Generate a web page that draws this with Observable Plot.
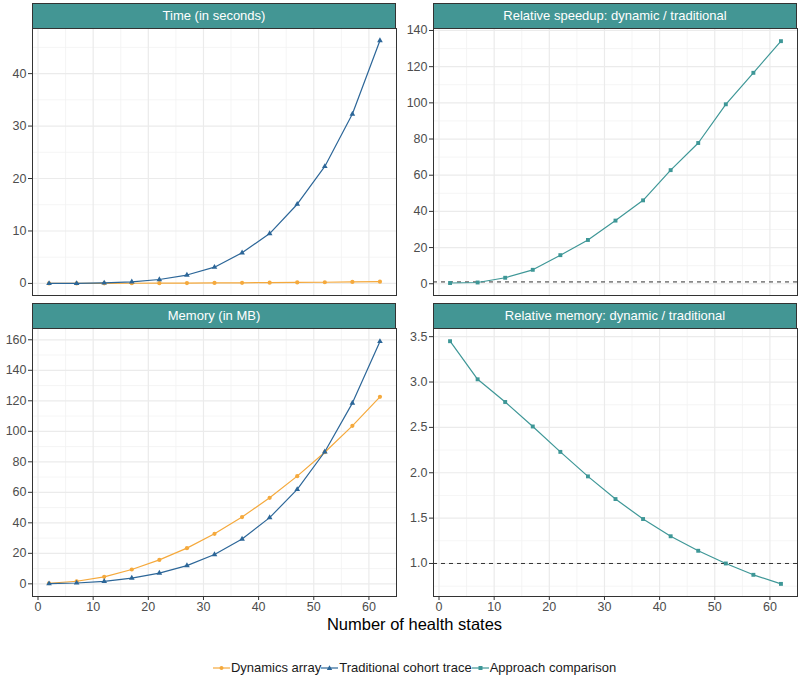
<!DOCTYPE html>
<html>
<head>
<meta charset="utf-8">
<script src="https://cdn.jsdelivr.net/npm/d3@7"></script>
<script src="https://cdn.jsdelivr.net/npm/@observablehq/plot@0.6"></script>
<style>
  html, body { margin: 0; padding: 0; background: #fff; }
  #root { position: relative; width: 800px; height: 678px; font-family: "Liberation Sans", Arial, sans-serif; overflow: hidden; }
  #root .panel svg text { font-size: 12.5px !important; fill: #4D4D4D; }
  .panel { position: absolute; }
  .strip { position: absolute; box-sizing: border-box; height: 26px; background: #439694; border: 1px solid #333; color: #fff; font-size: 13px; text-align: center; line-height: 24px; }
  .xtitle { position: absolute; left: 32px; width: 765px; top: 614px; text-align: center; font-size: 16.5px; line-height: 20px; color: #000; }
  .legend { position: absolute; left: 32px; width: 765px; top: 659px; display: flex; justify-content: center; align-items: center; font-size: 13px; line-height: 18px; color: #1a1a1a; }
  .legend .item { display: flex; align-items: center; }
  .legend svg { margin-right: 1px; }
</style>
</head>
<body>
<div id="root"></div>
<script>
// ---- Data ----
const states = [2, 7, 12, 17, 22, 27, 32, 37, 42, 47, 52, 57, 62];
const timeDynamic = [0.005, 0.01, 0.03, 0.04, 0.045, 0.065, 0.09, 0.125, 0.15, 0.195, 0.225, 0.28, 0.345];
const timeTraditional = [0.002, 0.007, 0.1, 0.3, 0.75, 1.6, 3.1, 5.85, 9.5, 15.1, 22.3, 32.3, 46.3];
const speedup = [0.4, 0.7, 3.3, 7.7, 15.8, 24.2, 34.9, 46.1, 62.8, 77.8, 99.2, 116.6, 134.1];
const memDynamic = [0.4, 1.7, 4.6, 9.4, 15.7, 23.4, 32.8, 43.8, 56.4, 70.6, 86.3, 103.6, 122.6];
const memTraditional = [0.12, 0.56, 1.65, 3.75, 7.05, 11.95, 19.2, 29.4, 43.4, 61.9, 86.6, 118.5, 158.9];
const memRelative = [3.45, 3.03, 2.78, 2.51, 2.23, 1.96, 1.71, 1.49, 1.30, 1.14, 1.0, 0.875, 0.775];

const panelTitles = ["Time (in seconds)", "Relative speedup: dynamic / traditional", "Memory (in MB)", "Relative memory: dynamic / traditional"];
const seriesNames = ["Dynamics array", "Traditional cohort trace", "Approach comparison"];
const xTicks = [0, 10, 20, 30, 40, 50, 60];
const xMinor = [5, 15, 25, 35, 45, 55];
const xTitle = "Number of health states";

const colors = { "Dynamics array": "#F5A93C", "Traditional cohort trace": "#2C6698", "Approach comparison": "#3E9797" };
const symbols = { "Dynamics array": "circle", "Traditional cohort trace": "triangle", "Approach comparison": "square" };
const dotR = { "Dynamics array": 2.1, "Traditional cohort trace": 2.1, "Approach comparison": 2.2 };

function rows(values, series) {
  return states.map((s, i) => ({ x: s, y: values[i], series }));
}

const panels = [
  { title: panelTitles[0], left: 0, top: 0, ml: 32, data: [rows(timeDynamic, seriesNames[0]), rows(timeTraditional, seriesNames[1])],
    yDomain: [-2.3, 48.6], yTicks: [0, 10, 20, 30, 40], yMinor: [5, 15, 25, 35, 45], fmt: d3.format("d"), xAxis: false, hline: false },
  { title: panelTitles[1], left: 400, top: 0, ml: 33, data: [rows(speedup, seriesNames[2])],
    yDomain: [-6.5, 141.1], yTicks: [0, 20, 40, 60, 80, 100, 120, 140], yMinor: [10, 30, 50, 70, 90, 110, 130], fmt: d3.format("d"), xAxis: false, hline: true },
  { title: panelTitles[2], left: 0, top: 300, ml: 32, data: [rows(memDynamic, seriesNames[0]), rows(memTraditional, seriesNames[1])],
    yDomain: [-8.3, 167.4], yTicks: [0, 20, 40, 60, 80, 100, 120, 140, 160], yMinor: [10, 30, 50, 70, 90, 110, 130, 150], fmt: d3.format("d"), xAxis: true, hline: false },
  { title: panelTitles[3], left: 400, top: 300, ml: 33, data: [rows(memRelative, seriesNames[2])],
    yDomain: [0.636, 3.59], yTicks: [1.0, 1.5, 2.0, 2.5, 3.0, 3.5], yMinor: [0.75, 1.25, 1.75, 2.25, 2.75, 3.25], fmt: d3.format(".1f"), xAxis: true, hline: true }
];

const root = document.getElementById("root");
const font = '"Liberation Sans", Arial, sans-serif';

for (const p of panels) {
  const plotH = p.top === 0 ? 267 : 268;
  const mt = 28;
  const mb = p.xAxis ? 22 : 5;
  const marks = [
    Plot.gridX(xMinor, { stroke: "#F2F2F2", strokeOpacity: 1, strokeWidth: 0.8 }),
    Plot.gridY(p.yMinor, { stroke: "#F2F2F2", strokeOpacity: 1, strokeWidth: 0.8 }),
    Plot.gridX(xTicks, { stroke: "#EBEBEB", strokeOpacity: 1, strokeWidth: 1.2 }),
    Plot.gridY(p.yTicks, { stroke: "#EBEBEB", strokeOpacity: 1, strokeWidth: 1.2 }),
    Plot.axisY({ ticks: p.yTicks, tickSize: 4, tickPadding: 2, stroke: "#333", fill: "#4D4D4D", fontSize: 12.5, tickFormat: p.fmt, label: null })
  ];
  if (p.xAxis) {
    marks.push(Plot.axisX({ ticks: xTicks, tickSize: 4, tickPadding: 2, stroke: "#333", fill: "#4D4D4D", fontSize: 12.5, label: null }));
  }
  if (p.hline) {
    marks.push(Plot.ruleY([1], { stroke: "#333", strokeWidth: 1, strokeDasharray: "4,4" }));
  }
  for (const d of p.data) {
    const name = d[0].series;
    marks.push(Plot.line(d, { x: "x", y: "y", stroke: colors[name], strokeWidth: 1.2 }));
    marks.push(Plot.dot(d, { x: "x", y: "y", fill: colors[name], stroke: null, symbol: symbols[name], r: dotR[name] }));
  }
  marks.push(Plot.frame({ stroke: "#333", strokeWidth: 1 }));

  const chart = Plot.plot({
    width: 400,
    height: mt + plotH + mb,
    marginLeft: p.ml,
    marginRight: 400 - p.ml - 364,
    marginTop: mt,
    marginBottom: mb,
    x: { domain: [-1, 65], axis: p.xAxis ? undefined : null },
    y: { domain: p.yDomain },
    style: { fontFamily: font, fontSize: "12.5px", background: "transparent", overflow: "visible" },
    marks
  });
  const wrap = document.createElement("div");
  wrap.className = "panel";
  wrap.style.left = p.left + "px";
  wrap.style.top = p.top + "px";
  wrap.appendChild(chart);
  root.appendChild(wrap);

  const strip = document.createElement("div");
  strip.className = "strip";
  strip.style.left = (p.left + p.ml) + "px";
  strip.style.top = (p.top + 3) + "px";
  strip.style.width = "364px";
  strip.textContent = p.title;
  root.appendChild(strip);
}

const xt = document.createElement("div");
xt.className = "xtitle";
xt.textContent = xTitle;
root.appendChild(xt);

const legend = document.createElement("div");
legend.className = "legend";
for (const name of seriesNames) {
  const item = document.createElement("div");
  item.className = "item";
  const c = colors[name];
  let marker;
  if (symbols[name] === "circle") marker = `<circle cx="8.5" cy="5" r="2" fill="${c}"/>`;
  else if (symbols[name] === "triangle") marker = `<path d="M8.5,2.3L11.2,7L5.8,7Z" fill="${c}"/>`;
  else marker = `<rect x="6.5" y="3" width="4" height="4" fill="${c}"/>`;
  item.innerHTML = `<svg width="17" height="10"><line x1="0" x2="17" y1="5" y2="5" stroke="${c}" stroke-width="1.2"/>${marker}</svg><span>${name}</span>`;
  legend.appendChild(item);
}
root.appendChild(legend);
</script>
</body>
</html>
